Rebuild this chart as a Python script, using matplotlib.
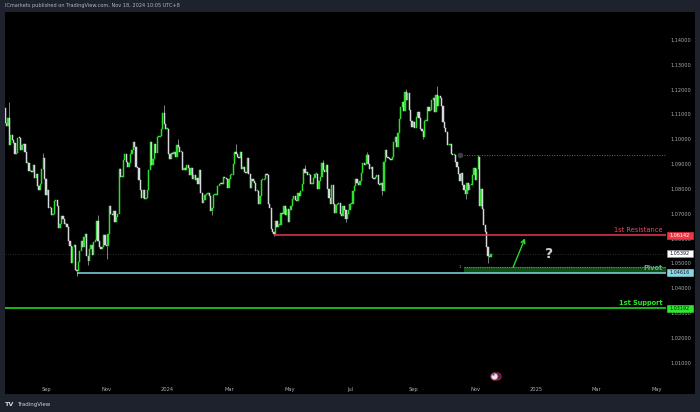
import numpy as np
import pandas as pd
import matplotlib
matplotlib.use("Agg")
import matplotlib.pyplot as plt
from matplotlib.patches import Rectangle
from matplotlib.transforms import blended_transform_factory as blend

# ---------------- data: EURUSD daily closes ---------------- #
START = "2023-07-20"
FIRST_OPEN = 1.1200
jul23 = [1.1128, 1.1125, 1.1064, 1.1053, 1.1087, 1.0975, 1.1016, 1.0998]
aug23 = [1.0985, 1.0940, 1.0945, 1.1005, 1.1004, 1.0958, 1.0975, 1.0980, 1.0948, 1.0905,
         1.0905, 1.0873, 1.0873, 1.0870, 1.0895, 1.0845, 1.0860, 1.0810, 1.0795, 1.0820,
         1.0880, 1.0925, 1.0840]
sep23 = [1.0775, 1.0795, 1.0722, 1.0725, 1.0697, 1.0700, 1.0750, 1.0755, 1.0730, 1.0642,
         1.0660, 1.0690, 1.0680, 1.0660, 1.0660, 1.0645, 1.0590, 1.0570, 1.0502, 1.0565,
         1.0573]
oct23 = [1.0475, 1.0470, 1.0505, 1.0550, 1.0590, 1.0565, 1.0605, 1.0620, 1.0530, 1.0510,
         1.0560, 1.0575, 1.0535, 1.0585, 1.0595, 1.0670, 1.0590, 1.0565, 1.0560, 1.0565,
         1.0615, 1.0575]
nov23 = [1.0570, 1.0620, 1.0730, 1.0700, 1.0695, 1.0710, 1.0665, 1.0685, 1.0700, 1.0880,
         1.0850, 1.0850, 1.0915, 1.0940, 1.0910, 1.0888, 1.0905, 1.0940, 1.0955, 1.0990,
         1.0970, 1.0890]
dec23 = [1.0885, 1.0835, 1.0795, 1.0765, 1.0795, 1.0760, 1.0765, 1.0795, 1.0875, 1.0990,
         1.0895, 1.0920, 1.0980, 1.0945, 1.1010, 1.1010, 1.1015, 1.1040, 1.1105, 1.1060,
         1.1040]
jan24 = [1.1040, 1.0940, 1.0920, 1.0945, 1.0940, 1.0950, 1.0930, 1.0975, 1.0970, 1.0950,
         1.0950, 1.0875, 1.0885, 1.0875, 1.0895, 1.0885, 1.0855, 1.0885, 1.0840, 1.0855,
         1.0835, 1.0845, 1.0820]
feb24 = [1.0875, 1.0785, 1.0745, 1.0755, 1.0775, 1.0780, 1.0785, 1.0770, 1.0710, 1.0725,
         1.0775, 1.0775, 1.0775, 1.0810, 1.0820, 1.0825, 1.0820, 1.0850, 1.0845, 1.0840,
         1.0805]
mar24 = [1.0840, 1.0855, 1.0855, 1.0900, 1.0950, 1.0940, 1.0930, 1.0925, 1.0950, 1.0880,
         1.0890, 1.0870, 1.0865, 1.0925, 1.0860, 1.0805, 1.0840, 1.0830, 1.0825, 1.0790,
         1.0790]
apr24 = [1.0740, 1.0770, 1.0835, 1.0835, 1.0840, 1.0860, 1.0855, 1.0740, 1.0725, 1.0640,
         1.0625, 1.0620, 1.0670, 1.0645, 1.0655, 1.0655, 1.0705, 1.0700, 1.0730, 1.0695,
         1.0720, 1.0665]
may24 = [1.0715, 1.0730, 1.0760, 1.0770, 1.0755, 1.0750, 1.0785, 1.0770, 1.0790, 1.0820,
         1.0880, 1.0865, 1.0870, 1.0855, 1.0855, 1.0820, 1.0820, 1.0845, 1.0860, 1.0860,
         1.0800, 1.0830, 1.0850]
jun24 = [1.0905, 1.0875, 1.0870, 1.0895, 1.0800, 1.0765, 1.0740, 1.0815, 1.0740, 1.0705,
         1.0735, 1.0740, 1.0745, 1.0700, 1.0690, 1.0730, 1.0715, 1.0680, 1.0700, 1.0715]
jul24 = [1.0740, 1.0740, 1.0790, 1.0810, 1.0840, 1.0825, 1.0815, 1.0830, 1.0865, 1.0905,
         1.0895, 1.0900, 1.0935, 1.0900, 1.0880, 1.0890, 1.0845, 1.0840, 1.0850, 1.0855,
         1.0820, 1.0815, 1.0825]
aug24 = [1.0790, 1.0910, 1.0955, 1.0930, 1.0925, 1.0920, 1.0915, 1.0930, 1.0990, 1.1010,
         1.0970, 1.1025, 1.1080, 1.1130, 1.1150, 1.1115, 1.1190, 1.1160, 1.1185, 1.1120,
         1.1075, 1.1050]
sep24 = [1.1070, 1.1045, 1.1090, 1.1110, 1.1085, 1.1040, 1.1035, 1.1010, 1.1075, 1.1075,
         1.1130, 1.1115, 1.1120, 1.1160, 1.1165, 1.1110, 1.1180, 1.1135, 1.1175, 1.1165,
         1.1135]
oct24 = [1.1070, 1.1045, 1.1030, 1.0975, 1.0975, 1.0980, 1.0940, 1.0935, 1.0935, 1.0910,
         1.0890, 1.0860, 1.0830, 1.0865, 1.0815, 1.0795, 1.0780, 1.0825, 1.0795, 1.0815,
         1.0815, 1.0855, 1.0885]
nov24 = [1.0835, 1.0880, 1.0930, 1.0730, 1.0800, 1.0720, 1.0655, 1.0625, 1.0565, 1.0530,
         1.0525, 1.05392]

# wick extremes at the visible swing points
swing_highs = {"2023-07-27": 1.1149, "2023-08-30": 1.0945, "2023-10-24": 1.0695,
               "2023-12-28": 1.1139, "2024-01-11": 1.1000, "2024-03-08": 1.0981,
               "2024-05-16": 1.0895, "2024-06-04": 1.0916, "2024-07-17": 1.0948,
               "2024-08-26": 1.1202, "2024-09-25": 1.1214, "2024-11-05": 1.0937}
swing_lows = {"2023-10-03": 1.0448, "2023-10-13": 1.0495, "2023-11-01": 1.0517,
              "2024-02-14": 1.0695, "2024-04-16": 1.0610, "2024-06-26": 1.0666,
              "2024-08-01": 1.0777, "2024-09-11": 1.1002, "2024-10-23": 1.0761,
              "2024-11-14": 1.0500}

# drawn levels
RESISTANCE = 1.06142
PIVOT = 1.04616
SUPPORT = 1.03192
LAST_PRICE = 1.05392
PRIOR_HIGH = 1.0936
ZONE = (1.04616, 1.0484)
resistance_from = "2024-04-16"
pivot_from = "2023-10-03"
prior_high_from = "2024-10-17"
zone_from = "2024-10-22"
arrow_start = ("2024-12-09", 1.0473)
arrow_end = ("2024-12-23", 1.0612)
question_at = ("2025-01-14", 1.0538)
flag_at = "2024-11-20"

y_ticks = [1.01, 1.02, 1.03, 1.04, 1.05, 1.06, 1.07, 1.08, 1.09, 1.10, 1.11, 1.12, 1.13, 1.14]
month_ticks = ["2023-09-01", "2023-11-01", "2024-01-01", "2024-03-01", "2024-05-01", "2024-07-01",
               "2024-09-01", "2024-11-01", "2025-01-01", "2025-03-01", "2025-05-01"]
month_labels = ["Sep", "Nov", "2024", "Mar", "May", "Jul", "Sep", "Nov", "2025", "Mar", "May"]

HEADER = "ICmarkets published on TradingView.com, Nov 18, 2024 10:05 UTC+8"

# ---------------- helpers ---------------- #
def bar_of(day):
    """business-day index counted from the first candle."""
    d = np.busday_offset(np.datetime64(day), 0, roll="forward")
    return int(np.busday_count(np.datetime64(START), d))

closes = np.array(jul23 + aug23 + sep23 + oct23 + nov23 + dec23 + jan24 + feb24 + mar24
                  + apr24 + may24 + jun24 + jul24 + aug24 + sep24 + oct24 + nov24)
opens = np.r_[FIRST_OPEN, closes[:-1]]
xs = np.arange(len(closes))

W, H = 700, 412
BG = "#1e222d"
TXT = "#a9acb5"
UP, DOWN, WICK = "#2ee02e", "#d6d8de", "#7d8088"

fig = plt.figure(figsize=(W / 100, H / 100), dpi=100, facecolor=BG)
# black chart panel
fig.add_artist(Rectangle((5 / W, (H - 394) / H), 690 / W, 382 / H, transform=fig.transFigure,
                         facecolor="black", edgecolor="none", zorder=0))

L, R, T, B = 5, 666, 12, 383
ax = fig.add_axes([L / W, (H - B) / H, (R - L) / W, (B - T) / H])
ax.set_facecolor("none")
for s in ax.spines.values():
    s.set_visible(False)

# x scale: bars, pinned so that Sep 2023 / May 2025 land where the reference has them
x_sep, x_may = bar_of("2023-09-01"), bar_of("2025-05-01")
ppb = (657 - 46) / (x_may - x_sep)
ax.set_xlim(x_sep - (46 - L) / ppb, x_sep + (R - 46) / ppb)
ax.set_ylim(1.00182, 1.15128)
xmin, xmax = ax.get_xlim()

# candles
up = closes >= opens
body_lo = np.minimum(opens, closes)
body_h = np.maximum(np.abs(closes - opens), 0.0004)
cols = np.where(up, UP, DOWN)
for day, hi in swing_highs.items():
    i = bar_of(day)
    ax.vlines(i, max(opens[i], closes[i]), hi, color=WICK, lw=0.7, zorder=2.8)
for day, lo in swing_lows.items():
    i = bar_of(day)
    ax.vlines(i, lo, min(opens[i], closes[i]), color=WICK, lw=0.7, zorder=2.8)
ax.bar(xs, body_h, bottom=body_lo, width=0.9, color=cols, edgecolor=cols,
       linewidth=0.35, zorder=3)

# levels
ax.hlines(LAST_PRICE, xmin, xmax, color="#3a3c42", lw=0.6, linestyles=(0, (1, 2)), zorder=1)
ax.hlines(PRIOR_HIGH, bar_of(prior_high_from) + 3, xmax, color="#8a8d96", lw=0.6,
          linestyles=(0, (1, 2)), zorder=2)
ax.plot(bar_of(prior_high_from), PRIOR_HIGH, "o", ms=3, color="#3b3d44", zorder=2)
ax.add_patch(Rectangle((bar_of(zone_from), ZONE[0]), xmax - bar_of(zone_from),
                       ZONE[1] - ZONE[0], facecolor="#124d16", edgecolor="none", zorder=2))
ax.hlines(ZONE[1], bar_of(zone_from), xmax, color="#3fae45", lw=0.8,
          linestyles=(0, (1, 1)), zorder=2.1)
ax.text(bar_of(zone_from) - 3, ZONE[1] + 0.0003, "1", color="#8a8d96", fontsize=3,
        ha="center", va="center", zorder=4)
ax.hlines(RESISTANCE, bar_of(resistance_from), xmax, color="#e8384f", lw=1.1, zorder=4)
ax.hlines(PIVOT, bar_of(pivot_from), xmax, color="#86d9e6", lw=1.1, zorder=4)
ax.hlines(SUPPORT, xmin, xmax, color="#22e622", lw=1.1, zorder=4)

lt = blend(ax.transAxes, ax.transData)
for lvl, name, col, weight in [(RESISTANCE, "1st Resistance", "#f0495c", "normal"),
                               (PIVOT, "Pivot", "#62b08c", "bold"),
                               (SUPPORT, "1st Support", "#2bea2b", "bold")]:
    ax.annotate(name, xy=(0.995, lvl), xycoords=lt, xytext=(0, 1.5),
                textcoords="offset points", ha="right", va="bottom", color=col,
                fontsize=4.8, fontweight=weight, zorder=5)

# price boxes on the right scale
bx0, bx1 = (667 - L) / (R - L), (693 - L) / (R - L)
bh = 7 / 2482
for lvl, fc, tc in [(RESISTANCE, "#f23645", "white"), (LAST_PRICE, "white", "#131722"),
                    (PIVOT, "#8ad8e6", "#131722"), (SUPPORT, "#2ee82e", "#131722")]:
    ax.add_patch(Rectangle((bx0, lvl - bh / 2), bx1 - bx0, bh, transform=lt, facecolor=fc,
                           edgecolor="#9598a1" if fc == "white" else fc, lw=0.4,
                           clip_on=False, zorder=6))
    ax.text((bx0 + bx1) / 2, lvl, f"{lvl:.5f}", transform=lt, ha="center", va="center",
            fontsize=3.5, color=tc, clip_on=False, zorder=7)

# projection arrow and question mark
ax.annotate("", xy=(bar_of(arrow_end[0]), arrow_end[1]),
            xytext=(bar_of(arrow_start[0]), arrow_start[1]),
            arrowprops=dict(arrowstyle="->", color="#2fd62f", lw=1.0, mutation_scale=7),
            zorder=5)
ax.text(bar_of(question_at[0]), question_at[1], "?", color="#c9cbd0", fontsize=10,
        fontweight="bold", ha="center", va="center", zorder=5)

# event flag at the bottom of the chart
ft = blend(ax.transData, ax.transAxes)
fx = bar_of(flag_at)
ax.plot(fx + 2.5, 0.018, "o", ms=5.2, mfc="#1a2a6c", mec="#c62836", mew=0.6,
        transform=ft, clip_on=False, zorder=6)
ax.plot(fx, 0.018, "o", ms=5.2, mfc="#e8e8f0", mec="#c62836", mew=0.8,
        transform=ft, clip_on=False, zorder=7)
ax.plot(fx - 0.8, 0.024, "s", ms=1.6, mfc="#2d4da8", mec="none",
        transform=ft, clip_on=False, zorder=8)

# axes ticks
ax.yaxis.tick_right()
ax.set_yticks(y_ticks)
ax.set_yticklabels([f"{v:.5f}" for v in y_ticks])
ax.set_xticks([bar_of(d) for d in month_ticks])
ax.set_xticklabels(month_labels)
ax.tick_params(axis="y", length=0, pad=3.3, labelsize=3.6, labelcolor=TXT)
ax.tick_params(axis="x", length=0, pad=2.6, labelsize=3.7, labelcolor=TXT)

# header & footer
fig.text(5 / W, 1 - 6 / H, HEADER, color="#b2b5be", fontsize=3.6, va="center", ha="left")
fig.text(5 / W, 1 - 404.5 / H, "TV", color="#d1d4dc", fontsize=4.6, fontweight="bold",
         va="center", ha="left")
fig.text(17 / W, 1 - 404.5 / H, "TradingView", color="#d1d4dc", fontsize=4.0,
         va="center", ha="left")

fig.savefig("out.png", dpi=100, facecolor=BG)
